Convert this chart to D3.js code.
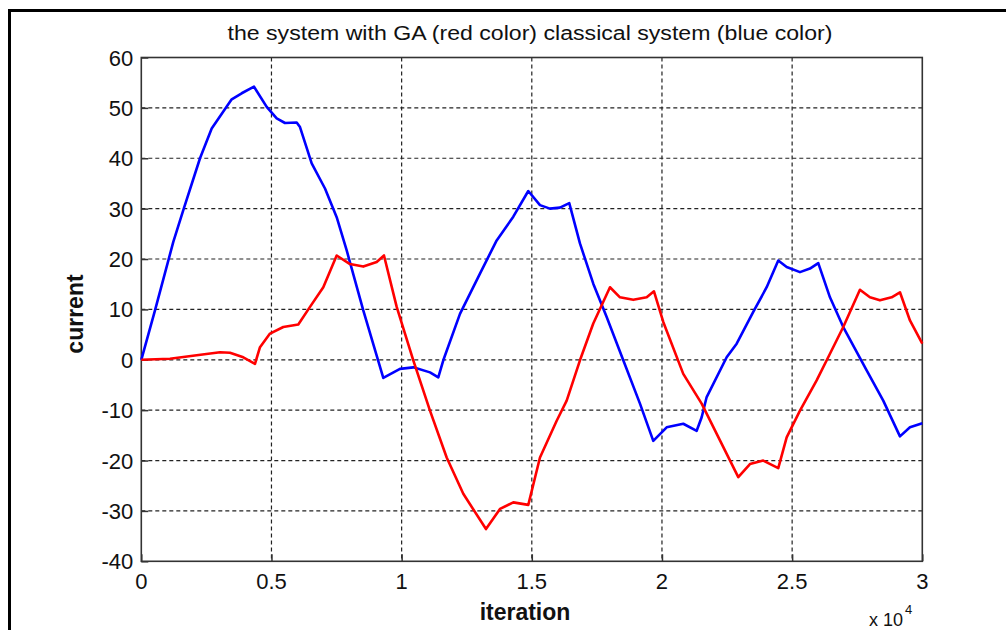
<!DOCTYPE html>
<html>
<head>
<meta charset="utf-8">
<script src="https://cdn.jsdelivr.net/npm/d3@7"></script>
<style>
	body { margin: 0; background: #fff; }
	svg { display: block; font-family: Arial, "Liberation Sans", sans-serif; }
</style>
</head>
<body>
<div id="chart-box"></div>
<script>
// DATA: iteration (raw) and current
const blueIter = [0, 526, 1229, 1613, 2255, 2704, 3472, 3856, 4329, 4817, 5201, 5520, 5969, 6096,
	6545, 7056, 7505, 7890, 8527, 9295, 9937, 10448, 11089, 11408, 11600, 12241, 13009, 13651,
	14289, 14865, 15314, 15698, 16082, 16439, 16850, 17361, 17876, 18514, 19155, 19666, 20180,
	20818, 21333, 21525, 21717, 22485, 22869, 23507, 24022, 24467, 24790, 25301, 25685, 26004,
	26453, 26964, 27863, 28500, 29142, 29526, 30000];
const blueCurrent = [0, 9.8, 23.4, 29.7, 40.0, 45.9, 51.7, 52.9, 54.2, 50.2, 47.9, 47.0, 47.1, 46.2,
	39.0, 34.0, 28.3, 21.7, 9.8, -3.6, -1.8, -1.5, -2.5, -3.5, -0.1, 9.1, 17.1, 23.7,
	28.4, 33.5, 30.7, 30.0, 30.2, 31.1, 23.1, 15.1, 8.5, -0.1, -8.7, -16.1, -13.4,
	-12.7, -14.1, -11.4, -7.4, 0.5, 3.2, 9.5, 14.4, 19.7, 18.4, 17.4, 18.1, 19.2,
	12.4, 6.5, -2.1, -8.1, -15.2, -13.4, -12.6];

const redIter = [0, 1102, 2128, 3023, 3407, 3918, 4367, 4559, 4943, 5454, 6030, 6480, 6991, 7505,
	8016, 8527, 9042, 9322, 9810, 10448, 11089, 11730, 12368, 13240, 13778, 14289, 14865, 15314,
	15956, 16340, 16850, 17361, 18003, 18387, 18898, 19413, 19693, 20050, 20818, 21525, 22228,
	22931, 23380, 23891, 24467, 24790, 25301, 25942, 26453, 26964, 27604, 27988, 28373, 28822,
	29142, 29526, 30000];
const redCurrent = [0, 0.2, 0.9, 1.5, 1.4, 0.5, -0.8, 2.5, 5.2, 6.5, 7.0, 10.5, 14.4, 20.7,
	19.0, 18.5, 19.4, 20.7, 10.5, -0.1, -10.1, -19.4, -26.6, -33.6, -29.6, -28.3, -28.8, -19.4,
	-12.1, -8.1, -0.1, 7.2, 14.4, 12.4, 11.9, 12.4, 13.6, 7.5, -2.8, -8.7, -16.0,
	-23.3, -20.7, -20.0, -21.5, -15.4, -10.1, -4.1, 1.2, 6.5, 13.9, 12.4, 11.8, 12.4,
	13.4, 7.8, 3.2];

const xTicks = [0, 5000, 10000, 15000, 20000, 25000, 30000];
const xTickLabels = ["0", "0.5", "1", "1.5", "2", "2.5", "3"];
const yTicks = [-40, -30, -20, -10, 0, 10, 20, 30, 40, 50, 60];

const titleText = "the system with GA (red color)  classical system (blue color)";


// SVG
const width = 1006;
const height = 630;
const svg = d3.select("#chart-box")
	.append("svg")
	.attr("width", width)
	.attr("height", height);

svg.append("rect").attr("width", width).attr("height", height).attr("fill", "#fff");

// figure frame (only left & top edges are in view)
svg.append("path")
	.attr("d", `M9.5,${height} V10.5 H${width}`)
	.attr("fill", "none")
	.attr("stroke", "#000")
	.attr("stroke-width", 3);


// SCALES
const plot = { left: 141.3, right: 922.3, top: 57.5, bottom: 561.3 };
const x = d3.scaleLinear().domain([0, 30000]).range([plot.left, plot.right]);
const y = d3.scaleLinear().domain([-40, 60]).range([plot.bottom, plot.top]);


// GRID
const grid = svg.append("g")
	.attr("stroke", "#222")
	.attr("stroke-width", 1.2)
	.attr("stroke-dasharray", "4,3");
grid.selectAll("line.gx")
	.data(xTicks.slice(1, -1))
	.enter()
	.append("line")
		.attr("x1", d => x(d)).attr("x2", d => x(d))
		.attr("y1", plot.top).attr("y2", plot.bottom);
grid.selectAll("line.gy")
	.data(yTicks.slice(1, -1))
	.enter()
	.append("line")
		.attr("y1", d => y(d)).attr("y2", d => y(d))
		.attr("x1", plot.left).attr("x2", plot.right);


// AXES (inner ticks, MATLAB style)
const xAxis = svg.append("g")
	.attr("transform", `translate(0,${plot.bottom})`)
	.call(d3.axisTop(x).tickValues(xTicks).tickSize(7).tickFormat(""));
const yAxis = svg.append("g")
	.attr("transform", `translate(${plot.left},0)`)
	.call(d3.axisRight(y).tickValues(yTicks).tickSize(7).tickFormat(""));
[xAxis, yAxis].forEach(a => {
	a.select(".domain").remove();
	a.selectAll("line").attr("stroke", "#333").attr("stroke-width", 1.5);
});

// box
svg.append("rect")
	.attr("x", plot.left).attr("y", plot.top)
	.attr("width", plot.right - plot.left)
	.attr("height", plot.bottom - plot.top)
	.attr("fill", "none")
	.attr("stroke", "#333")
	.attr("stroke-width", 1.6);


// TICK LABELS
svg.append("g")
	.selectAll("text")
	.data(xTicks)
	.enter()
	.append("text")
		.attr("x", d => x(d))
		.attr("y", plot.bottom + 28)
		.attr("text-anchor", "middle")
		.attr("font-size", 22)
		.attr("fill", "#111")
		.text((d, i) => xTickLabels[i]);
svg.append("g")
	.selectAll("text")
	.data(yTicks)
	.enter()
	.append("text")
		.attr("x", plot.left - 8)
		.attr("y", d => y(d) + 8)
		.attr("text-anchor", "end")
		.attr("font-size", 22)
		.attr("fill", "#111")
		.text(d => d);

// exponent
const expo = svg.append("text")
	.attr("x", 869)
	.attr("y", 626)
	.attr("font-size", 18)
	.attr("fill", "#111");
expo.append("tspan").text("x 10");
expo.append("tspan").attr("dx", 2).attr("dy", -12).attr("font-size", 13).text("4");


// LINES
const line = d3.line()
	.x(d => x(d[0]))
	.y(d => y(d[1]));
svg.append("path")
	.datum(blueIter.map((v, i) => [v, blueCurrent[i]]))
	.attr("d", line)
	.attr("fill", "none")
	.attr("stroke", "#0000ff")
	.attr("stroke-width", 2.6)
	.attr("stroke-linejoin", "round");
svg.append("path")
	.datum(redIter.map((v, i) => [v, redCurrent[i]]))
	.attr("d", line)
	.attr("fill", "none")
	.attr("stroke", "#ff0000")
	.attr("stroke-width", 2.6)
	.attr("stroke-linejoin", "round");


// TITLES
svg.append("text")
	.attr("x", 530)
	.attr("y", 40)
	.attr("text-anchor", "middle")
	.attr("font-size", 20)
	.attr("textLength", 605)
	.attr("lengthAdjust", "spacingAndGlyphs")
	.attr("fill", "#111")
	.text(titleText);
svg.append("text")
	.attr("x", 525)
	.attr("y", 620)
	.attr("text-anchor", "middle")
	.attr("font-size", 23)
	.attr("font-weight", "bold")
	.attr("fill", "#111")
	.text("iteration");
svg.append("text")
	.attr("transform", "translate(83,314) rotate(-90)")
	.attr("text-anchor", "middle")
	.attr("font-size", 23)
	.attr("font-weight", "bold")
	.attr("fill", "#111")
	.text("current");
</script>
</body>
</html>
